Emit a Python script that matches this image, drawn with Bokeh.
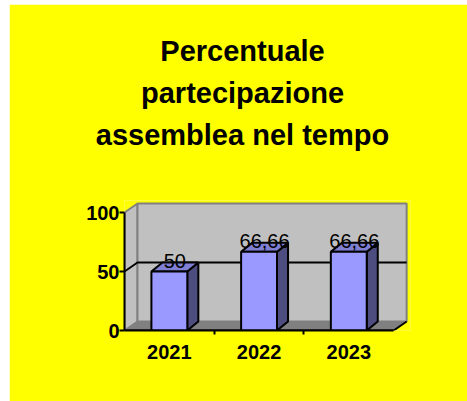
from bokeh.plotting import figure
from bokeh.models import Range1d, FixedTicker, CustomJSTickFormatter, Title
from bokeh.core.properties import value
from bokeh.embed import file_html
from bokeh.resources import INLINE

# ---- data ----
categories = ["2021", "2022", "2023"]
values = [50, 66.66, 66.66]
yticks = [0, 50, 100]
title_lines = ["Percentuale", "partecipazione", "assemblea nel tempo"]

# ---- style constants ----
FONT = "Liberation Sans"
YELLOW = "#ffff00"
WALL = "#c0c0c0"
FLOOR = "#808080"
EDGE = "#808080"
FRONT = "#9999ff"
SIDE = "#4d4d80"
TOP = "#7f7fd4"
WDX, WDY = 0.145, 7.6   # wall depth (category units, value units)
BDX, BDY = 0.123, 7.6   # bar depth
BW = 0.4                # bar width (category units)
TITLE_PX = 29
TITLE_CENTER = 118      # title centre, px right of the frame's left edge

# approximate bold sans advance widths (per 1000 em), used to centre title lines
ADV = {"a": 556, "b": 611, "c": 556, "e": 556, "i": 278, "l": 278, "m": 889, "n": 611,
       "o": 611, "p": 611, "r": 389, "s": 556, "t": 333, "u": 611, "z": 500, "P": 667, " ": 278}


def text_width(s):
    return sum(ADV.get(ch, 600) for ch in s) / 1000 * TITLE_PX


n = len(categories)
ymax = max(yticks)

p = figure(width=458, height=397, x_range=Range1d(0, 3.188), y_range=Range1d(0, 110.17),
           output_backend="svg", toolbar_location=None, margin=(4, 0, 0, 9),
           background_fill_color=YELLOW, border_fill_color=YELLOW, outline_line_color=None,
           min_border_left=115, min_border_right=57, min_border_top=196, min_border_bottom=71)
p.grid.visible = False


def style_title(t, txt, standoff):
    t.text = txt
    t.align = "left"
    t.offset = round(TITLE_CENTER - text_width(txt) / 2, 1)
    t.standoff = standoff
    t.text_font = FONT
    t.text_font_size = f"{TITLE_PX}px"
    t.text_font_style = "bold"
    t.text_color = "black"


# titles stack outward from the frame: spacer, line 3, line 2, then p.title (line 1)
spacer = Title(text=" ")
style_title(spacer, " ", 12)
p.add_layout(spacer, "above")
for txt in reversed(title_lines[1:]):
    t = Title(text=txt)
    style_title(t, txt, 8)
    p.add_layout(t, "above")
style_title(p.title, title_lines[0], 8)

# walls
p.patch([0, WDX, WDX, 0], [0, WDY, ymax + WDY, ymax], fill_color=WALL, line_color=EDGE, line_width=2)
p.patch([WDX, n + WDX, n + WDX, WDX], [WDY, WDY, ymax + WDY, ymax + WDY],
        fill_color=WALL, line_color=EDGE, line_width=2)
p.patch([0, n, n + WDX, WDX], [0, 0, WDY, WDY], fill_color=FLOOR, line_color=None)
p.line([0, n, n + WDX], [0, 0, WDY], line_color="black", line_width=2)

# gridlines
gx, gy = [], []
for t in yticks:
    if 0 < t < ymax:
        gx.append([0, WDX, n + WDX])
        gy.append([t, t + WDY, t + WDY])
p.multi_line(gx, gy, line_color="black", line_width=2)

# bars
side_x, side_y, top_x, top_y = [], [], [], []
lefts, rights = [], []
for i, v in enumerate(values):
    l = i + 0.5 - BW / 2
    r = i + 0.5 + BW / 2
    lefts.append(l)
    rights.append(r)
    side_x.append([r, r + BDX, r + BDX, r])
    side_y.append([0, BDY, v + BDY, v])
    top_x.append([l, l + BDX, r + BDX, r])
    top_y.append([v, v + BDY, v + BDY, v])
p.patches(side_x, side_y, fill_color=SIDE, line_color="black", line_width=2)
p.patches(top_x, top_y, fill_color=TOP, line_color="black", line_width=2)
p.quad(left=lefts, right=rights, bottom=[0] * n, top=values,
       fill_color=FRONT, line_color="black", line_width=2)

# data labels
p.text(x=[i + 0.5 + BDX / 2 for i in range(n)], y=[v + BDY / 2 for v in values],
       text=[f"{v:g}".replace(".", ",") for v in values],
       text_align="center", text_baseline="middle", y_offset=-6,
       text_font=value(FONT), text_font_size=value("20px"), text_color="black")

# axes
ya = p.yaxis[0]
ya.ticker = FixedTicker(ticks=yticks)
ya.bounds = (0, ymax)
ya.axis_line_width = 2
ya.major_tick_line_width = 2
ya.major_tick_out = 5
ya.major_tick_in = 0
ya.major_label_standoff = 0
ya.major_label_text_font = FONT
ya.major_label_text_font_size = "20px"
ya.major_label_text_font_style = "bold"
ya.major_label_text_color = "black"

xa = p.xaxis[0]
xa.ticker = FixedTicker(ticks=[i + 0.5 for i in range(n)], minor_ticks=list(range(1, n)))
xa.formatter = CustomJSTickFormatter(args=dict(labels=categories),
                                     code="return labels[Math.floor(tick)];")
xa.bounds = (0, n)
xa.axis_line_width = 2
xa.major_tick_out = 0
xa.major_tick_in = 0
xa.minor_tick_out = 4
xa.minor_tick_in = 0
xa.minor_tick_line_width = 2
xa.major_label_standoff = 10
xa.major_label_text_font = FONT
xa.major_label_text_font_size = "20px"
xa.major_label_text_font_style = "bold"
xa.major_label_text_color = "black"

open("out.html", "w").write(file_html(p, INLINE))
